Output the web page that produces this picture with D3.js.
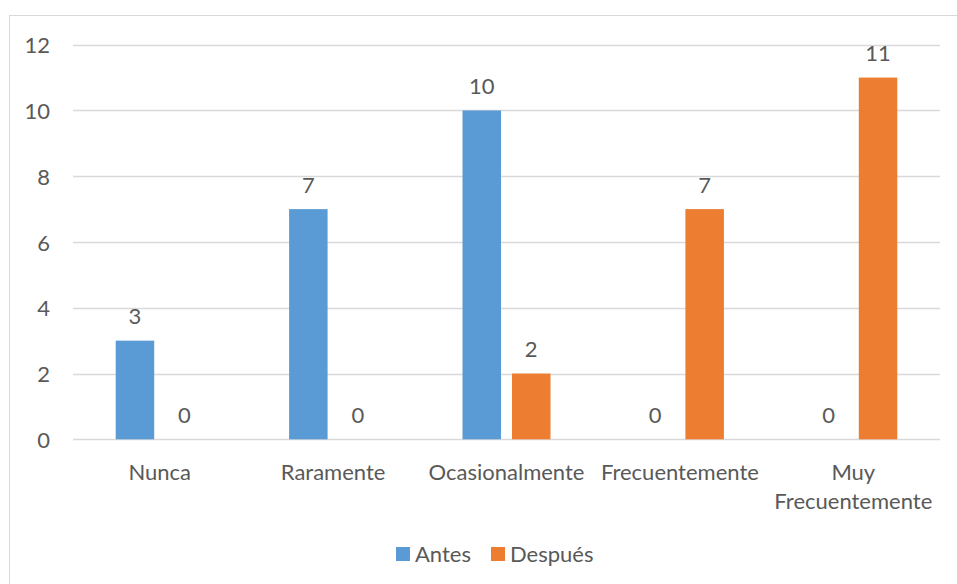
<!DOCTYPE html>
<html>
<head>
<meta charset="utf-8">
<script src="https://cdn.jsdelivr.net/npm/d3@7"></script>
<style>
  html, body { margin: 0; padding: 0; background: #fff; }
  svg { display: block; }
  text { font-family: Lato, "Open Sans", sans-serif; fill: #595959; }
</style>
</head>
<body>
<svg id="chart" width="957" height="584"></svg>
<script>
// Frequency counts before and after, per category
const categories = ["Nunca", "Raramente", "Ocasionalmente", "Frecuentemente", "Muy Frecuentemente"];
const categoryLines = [["Nunca"], ["Raramente"], ["Ocasionalmente"], ["Frecuentemente"], ["Muy", "Frecuentemente"]];
const seriesNames = ["Antes", "Después"];
const antes = [3, 7, 10, 0, 0];
const despues = [0, 0, 2, 7, 11];
const yTicks = [0, 2, 4, 6, 8, 10, 12];
const colors = ["#5B9BD5", "#ED7D31"];

const svg = d3.select("#chart");
const W = 957, H = 584;
const FS = "22px";

// outer chart frame
svg.append("rect")
  .attr("x", 9.5).attr("y", 15.5)
  .attr("width", W + 10).attr("height", H + 10)
  .attr("fill", "none").attr("stroke", "#D9D9D9").attr("stroke-width", 1);

const plot = { left: 73, right: 940, top: 44.7, bottom: 439.3 };

const x = d3.scaleBand().domain(categories).range([plot.left, plot.right]).paddingInner(0).paddingOuter(0);
const y = d3.scaleLinear().domain([0, 12]).range([plot.bottom, plot.top]);

const barW = 38.5, gap = 11;
const inner = d3.scaleBand().domain(seriesNames)
  .range([-(barW + gap / 2), barW + gap / 2]).paddingInner(gap / (barW + gap)).paddingOuter(0);

// horizontal gridlines
svg.append("g").selectAll("line").data(yTicks).join("line")
  .attr("x1", plot.left).attr("x2", plot.right)
  .attr("y1", d => Math.round(y(d)) + 0.5).attr("y2", d => Math.round(y(d)) + 0.5)
  .attr("stroke", "#D9D9D9").attr("stroke-width", 1.3);

// y tick labels
svg.append("g").selectAll("text").data(yTicks).join("text")
  .attr("x", 50).attr("y", d => y(d))
  .attr("text-anchor", "end").attr("dominant-baseline", "central")
  .style("font-size", FS)
  .text(d => d);

const rows = categories.map((c, i) => ({ c, vals: [antes[i], despues[i]] }));

// bars and value labels
const groups = svg.append("g").selectAll("g").data(rows).join("g")
  .attr("transform", d => `translate(${x(d.c) + x.bandwidth() / 2},0)`);

groups.selectAll("rect").data(d => d.vals.map((v, k) => ({ v, k }))).join("rect")
  .attr("x", d => inner(seriesNames[d.k]))
  .attr("width", inner.bandwidth())
  .attr("y", d => y(d.v))
  .attr("height", d => y(0) - y(d.v))
  .attr("fill", d => colors[d.k]);

groups.selectAll("text").data(d => d.vals.map((v, k) => ({ v, k }))).join("text")
  .attr("x", d => inner(seriesNames[d.k]) + inner.bandwidth() / 2)
  .attr("y", d => y(d.v) - 25)
  .attr("text-anchor", "middle").attr("dominant-baseline", "central")
  .style("font-size", FS)
  .text(d => d.v);

// category labels
const catG = svg.append("g").selectAll("text").data(categories).join("text")
  .attr("x", d => x(d) + x.bandwidth() / 2)
  .attr("text-anchor", "middle")
  .style("font-size", FS);
catG.selectAll("tspan").data((d, i) => categoryLines[i]).join("tspan")
  .attr("x", function () { return d3.select(this.parentNode).attr("x"); })
  .attr("y", (d, j) => 471 + j * 29)
  .attr("dominant-baseline", "central")
  .text(d => d);

// legend
const legend = svg.append("g");
const legendItems = [{ sx: 396, tx: 415 }, { sx: 491, tx: 510 }];
legendItems.forEach((it, k) => {
  legend.append("rect").attr("x", it.sx).attr("y", 547).attr("width", 14).attr("height", 14).attr("fill", colors[k]);
  legend.append("text").attr("x", it.tx).attr("y", 553).attr("dominant-baseline", "central")
    .style("font-size", FS).text(seriesNames[k]);
});
</script>
</body>
</html>
